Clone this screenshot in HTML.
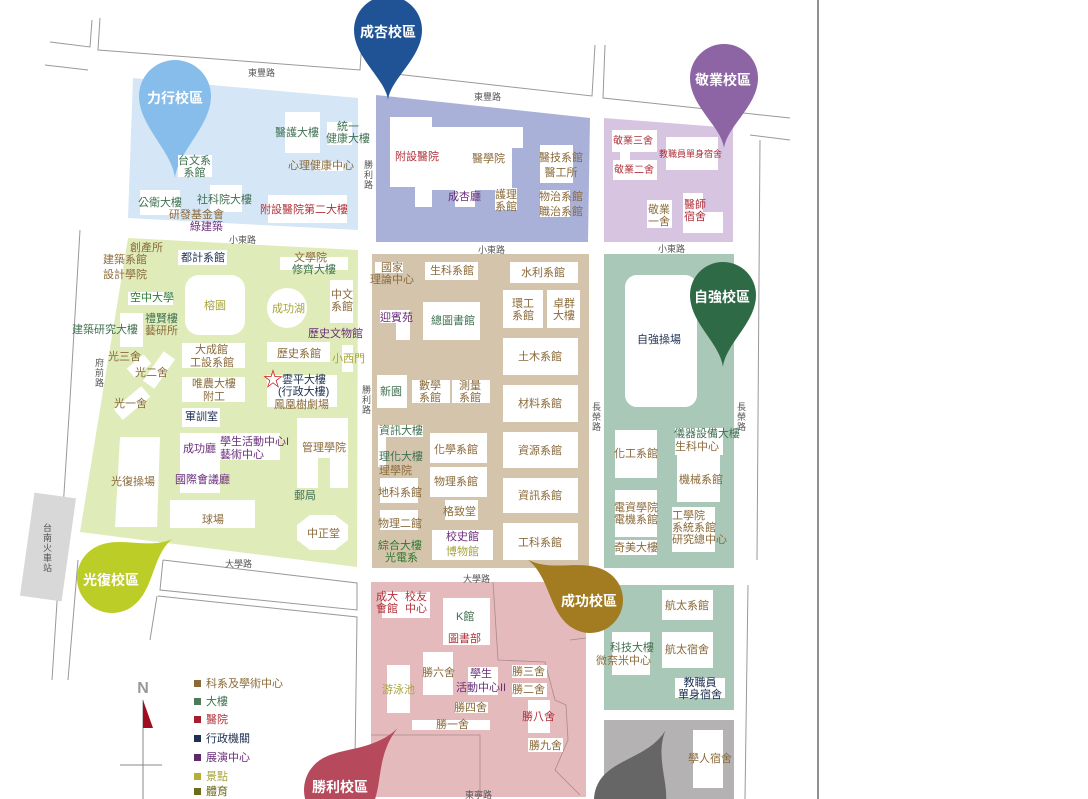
<!DOCTYPE html>
<html><head><meta charset="utf-8"><style>
html,body{margin:0;width:1088px;height:799px;overflow:hidden;background:#fff;font-family:"Liberation Sans","Noto Sans CJK TC",sans-serif;}
#m{position:absolute;left:0;top:0;width:1088px;height:799px;overflow:hidden;}
.b{position:absolute;background:#fff;}
.t{position:absolute;font-size:11px;line-height:12px;white-space:nowrap;text-align:center;}
.br{color:#8a6a3a}.gr{color:#3f7050}.rd{color:#b0303a}.pu{color:#6a2d7a}.ol{color:#a8a43a}.nv{color:#1e3050}.dg{color:#2e7a30}
.r{position:absolute;font-size:9px;color:#555;}
.pt{position:absolute;color:#fff;font-weight:bold;font-size:14px;text-align:center;width:80px;}
.lg{position:absolute;font-size:11px;left:194px;line-height:13px;}
.lg i{display:inline-block;width:7px;height:7px;margin-right:5px;}
</style></head><body><div id="m">
<svg width="1088" height="799" style="position:absolute;left:0;top:0">
<g fill="none" stroke="#999" stroke-width="1">
<polyline points="50,42 90,47 92,20"/><polyline points="100,18 98,50 360,70 362,40"/>
<polyline points="45,65 88,70"/><polyline points="378,72 592,96 595,45"/>
<polyline points="605,45 603,98 790,118"/><polyline points="750,135 790,140"/>
<polyline points="760,140 757,560"/><polyline points="748,585 745,799"/>
<polyline points="80,230 70,400 52,680"/><polyline points="78,560 68,680"/>
<polyline points="163,560 357,583 357,610 160,590 163,560"/>
<polyline points="157,596 150,640"/><polyline points="158,596 357,617 355,760"/>
<line x1="818" y1="0" x2="818" y2="799" stroke="#222"/>
</g>
<polygon points="133,78 358,98 358,230 128,218" fill="#d5e6f6"/>
<polygon points="376,95 590,118 588,242 376,242" fill="#aab1d8"/>
<polygon points="604,118 733,128 733,242 604,242" fill="#d7c4e1"/>
<polygon points="128,238 358,250 357,567 80,532" fill="#e0ebba"/>
<polygon points="372,254 589,254 589,568 372,568" fill="#d5c4ac"/>
<polygon points="604,254 734,254 734,568 604,568" fill="#aac8b7"/>
<polygon points="371,582 586,582 586,797 371,797" fill="#e4babc"/>
<polygon points="604,585 734,585 734,710 604,710" fill="#aac8b7"/>
<polygon points="604,720 734,720 734,799 604,799" fill="#b5b2b3"/>
<rect x="27" y="495" width="42" height="104" fill="#d8d8d8" transform="rotate(8 48 547)"/>
<g fill="none" stroke="#a98a8c" stroke-width="0.8">
<polyline points="493,582 498,660 545,662 555,700 566,705 568,740 555,770 580,795"/>
<polyline points="371,735 480,735 480,797"/>
<polyline points="570,640 586,638"/>
</g>
<polygon points="390,117 432,117 432,127 523,127 523,148 512,148 512,190 475,190 475,207 455,207 455,190 432,190 432,207 415,207 415,187 390,187" fill="#fff"/>
<rect x="185" y="275" width="60" height="60" rx="14" fill="#fff"/>
<circle cx="287" cy="308" r="20" fill="#fff"/>
<polygon points="297,418 348,418 348,488 330,488 330,458 318,458 318,488 297,488" fill="#fff"/>
<polygon points="310,515 335,515 348,525 348,540 335,550 310,550 297,540 297,525" fill="#fff"/>
<polygon points="120,437 160,437 157,527 115,527" fill="#fff"/>
<rect x="625" y="275" width="72" height="132" rx="12" fill="#fff"/>
<polygon points="683,193 703,193 703,212 723,212 723,233 683,233" fill="#fff"/>
<rect x="128" y="360" width="22" height="12" fill="#fff" transform="rotate(-40 139 366)"/>
<rect x="152" y="352" width="14" height="36" fill="#fff" transform="rotate(35 159 370)"/>
<rect x="125" y="385" width="14" height="36" fill="#fff" transform="rotate(50 132 403)"/>
<g>
<path d="M-34,0 A34,34 0 1 1 34,0 C34,28 3,48 0,70 C-3,48 -34,28 -34,0Z" fill="#1f5395" transform="translate(388,30)"/>
<path d="M-36,0 A36,36 0 1 1 36,0 C36,30 3,55 0,82 C-3,55 -36,30 -36,0Z" fill="#86bdea" transform="translate(175,96)"/>
<path d="M-34,0 A34,34 0 1 1 34,0 C34,28 3,48 0,70 C-3,48 -34,28 -34,0Z" fill="#8d64a4" transform="translate(724,78)"/>
<path d="M-33,0 A33,33 0 1 1 33,0 C33,28 3,48 0,72 C-3,48 -33,28 -33,0Z" fill="#2e6a45" transform="translate(723,295)"/>
<path d="M-35,0 A35,35 0 1 1 35,0 C35,28 3,45 0,72 C-3,45 -35,28 -35,0Z" fill="#bccd28" transform="translate(112,578) rotate(-123)"/>
<path d="M-33,0 A33,33 0 1 1 33,0 C33,28 3,45 0,74 C-3,45 -33,28 -33,0Z" fill="#a37b20" transform="translate(590,600) rotate(123)"/>
<path d="M-36,0 A36,36 0 1 1 36,0 C36,28 3,45 0,84 C-3,45 -36,28 -36,0Z" fill="#b64a5c" transform="translate(340,790) rotate(-137)"/>
<path d="M-36,0 A36,36 0 1 1 36,0 C36,28 3,45 0,78 C-3,45 -36,28 -36,0Z" fill="#666" transform="translate(630,800) rotate(-153)"/>
</g>
<text x="143" y="693" font-size="16" font-weight="bold" fill="#999" text-anchor="middle" font-family="Liberation Sans">N</text>
<line x1="143" y1="700" x2="143" y2="799" stroke="#888"/>
<line x1="120" y1="765" x2="162" y2="765" stroke="#888"/>
<polygon points="143,700 153,728 143,728" fill="#a00d1e"/>
</svg>

<div class="b" style="left:285px;top:112px;width:35px;height:41px"></div>
<div class="b" style="left:327px;top:122px;width:25px;height:23px"></div>
<div class="b" style="left:316px;top:161px;width:27px;height:10px"></div>
<div class="b" style="left:178px;top:155px;width:34px;height:22px"></div>
<div class="b" style="left:140px;top:190px;width:40px;height:25px"></div>
<div class="b" style="left:210px;top:185px;width:32px;height:27px"></div>
<div class="b" style="left:268px;top:195px;width:79px;height:28px"></div>
<div class="b" style="left:540px;top:145px;width:33px;height:38px"></div>
<div class="b" style="left:540px;top:190px;width:30px;height:27px"></div>
<div class="b" style="left:495px;top:188px;width:22px;height:22px"></div>
<div class="b" style="left:612px;top:130px;width:45px;height:22px"></div>
<div class="b" style="left:620px;top:152px;width:10px;height:8px"></div>
<div class="b" style="left:613px;top:160px;width:44px;height:20px"></div>
<div class="b" style="left:666px;top:137px;width:52px;height:33px"></div>
<div class="b" style="left:647px;top:200px;width:25px;height:28px"></div>
<div class="b" style="left:178px;top:250px;width:49px;height:15px"></div>
<div class="b" style="left:280px;top:257px;width:68px;height:13px"></div>
<div class="b" style="left:330px;top:280px;width:23px;height:43px"></div>
<div class="b" style="left:128px;top:292px;width:45px;height:13px"></div>
<div class="b" style="left:120px;top:313px;width:23px;height:34px"></div>
<div class="b" style="left:182px;top:343px;width:63px;height:25px"></div>
<div class="b" style="left:267px;top:342px;width:63px;height:20px"></div>
<div class="b" style="left:342px;top:345px;width:11px;height:27px"></div>
<div class="b" style="left:182px;top:377px;width:63px;height:25px"></div>
<div class="b" style="left:267px;top:375px;width:70px;height:32px"></div>
<div class="b" style="left:182px;top:408px;width:38px;height:19px"></div>
<div class="b" style="left:180px;top:433px;width:40px;height:60px"></div>
<div class="b" style="left:220px;top:433px;width:60px;height:27px"></div>
<div class="b" style="left:170px;top:500px;width:85px;height:28px"></div>
<div class="b" style="left:375px;top:262px;width:28px;height:11px"></div>
<div class="b" style="left:425px;top:262px;width:53px;height:18px"></div>
<div class="b" style="left:510px;top:262px;width:68px;height:21px"></div>
<div class="b" style="left:380px;top:310px;width:30px;height:13px"></div>
<div class="b" style="left:396px;top:323px;width:14px;height:17px"></div>
<div class="b" style="left:423px;top:302px;width:57px;height:38px"></div>
<div class="b" style="left:503px;top:290px;width:40px;height:38px"></div>
<div class="b" style="left:547px;top:290px;width:33px;height:38px"></div>
<div class="b" style="left:503px;top:338px;width:75px;height:37px"></div>
<div class="b" style="left:377px;top:375px;width:30px;height:33px"></div>
<div class="b" style="left:412px;top:380px;width:38px;height:23px"></div>
<div class="b" style="left:452px;top:380px;width:38px;height:23px"></div>
<div class="b" style="left:503px;top:385px;width:75px;height:37px"></div>
<div class="b" style="left:378px;top:425px;width:45px;height:12px"></div>
<div class="b" style="left:378px;top:437px;width:8px;height:30px"></div>
<div class="b" style="left:430px;top:433px;width:57px;height:30px"></div>
<div class="b" style="left:503px;top:432px;width:75px;height:36px"></div>
<div class="b" style="left:430px;top:467px;width:57px;height:30px"></div>
<div class="b" style="left:380px;top:478px;width:38px;height:25px"></div>
<div class="b" style="left:503px;top:478px;width:75px;height:35px"></div>
<div class="b" style="left:445px;top:500px;width:33px;height:20px"></div>
<div class="b" style="left:380px;top:510px;width:38px;height:20px"></div>
<div class="b" style="left:432px;top:530px;width:61px;height:30px"></div>
<div class="b" style="left:503px;top:523px;width:75px;height:37px"></div>
<div class="b" style="left:615px;top:430px;width:42px;height:48px"></div>
<div class="b" style="left:675px;top:428px;width:48px;height:27px"></div>
<div class="b" style="left:677px;top:455px;width:43px;height:47px"></div>
<div class="b" style="left:615px;top:490px;width:42px;height:47px"></div>
<div class="b" style="left:672px;top:507px;width:43px;height:45px"></div>
<div class="b" style="left:615px;top:540px;width:42px;height:15px"></div>
<div class="b" style="left:382px;top:592px;width:48px;height:26px"></div>
<div class="b" style="left:443px;top:598px;width:47px;height:47px"></div>
<div class="b" style="left:423px;top:652px;width:30px;height:43px"></div>
<div class="b" style="left:387px;top:665px;width:23px;height:48px"></div>
<div class="b" style="left:468px;top:667px;width:30px;height:28px"></div>
<div class="b" style="left:512px;top:665px;width:35px;height:13px"></div>
<div class="b" style="left:512px;top:683px;width:35px;height:14px"></div>
<div class="b" style="left:455px;top:702px;width:33px;height:11px"></div>
<div class="b" style="left:412px;top:720px;width:78px;height:10px"></div>
<div class="b" style="left:528px;top:700px;width:22px;height:33px"></div>
<div class="b" style="left:528px;top:738px;width:35px;height:14px"></div>
<div class="b" style="left:662px;top:590px;width:51px;height:30px"></div>
<div class="b" style="left:612px;top:632px;width:38px;height:43px"></div>
<div class="b" style="left:662px;top:632px;width:51px;height:36px"></div>
<div class="b" style="left:675px;top:678px;width:50px;height:20px"></div>
<div class="b" style="left:693px;top:730px;width:30px;height:58px"></div>

<div class="r" style="left:248px;top:66px">東豐路</div>
<div class="r" style="left:474px;top:90px">東豐路</div>
<div class="r" style="left:229px;top:233px">小東路</div>
<div class="r" style="left:478px;top:243px">小東路</div>
<div class="r" style="left:658px;top:242px">小東路</div>
<div class="r" style="left:225px;top:557px">大學路</div>
<div class="r" style="left:463px;top:572px">大學路</div>
<div class="r" style="left:465px;top:788px">東寧路</div>
<div class="r" style="left:364px;top:160px;width:9px;line-height:10px">勝利路</div>
<div class="r" style="left:362px;top:385px;width:9px;line-height:10px">勝利路</div>
<div class="r" style="left:592px;top:402px;width:9px;line-height:10px">長榮路</div>
<div class="r" style="left:737px;top:402px;width:9px;line-height:10px">長榮路</div>
<div class="r" style="left:95px;top:358px;width:9px;line-height:10px">府前路</div>
<div class="r" style="left:43px;top:523px;width:9px;line-height:10px">台南火車站</div>

<div class="pt" style="left:348px;top:22px">成杏校區</div>
<div class="pt" style="left:135px;top:88px">力行校區</div>
<div class="pt" style="left:683px;top:70px">敬業校區</div>
<div class="pt" style="left:682px;top:287px">自強校區</div>
<div class="pt" style="left:71px;top:570px">光復校區</div>
<div class="pt" style="left:549px;top:591px">成功校區</div>
<div class="pt" style="left:300px;top:777px">勝利校區</div>

<div class="t gr" style="left:275px;top:127px">醫護大樓</div>
<div class="t gr" style="left:326px;top:121px">統一<br>健康大樓</div>
<div class="t br" style="left:288px;top:160px">心理健康中心</div>
<div class="t gr" style="left:178px;top:155px">台文系<br>系館</div>
<div class="t gr" style="left:138px;top:197px">公衛大樓</div>
<div class="t gr" style="left:197px;top:194px">社科院大樓</div>
<div class="t br" style="left:169px;top:209px">研發基金會</div>
<div class="t pu" style="left:190px;top:221px">綠建築</div>
<div class="t rd" style="left:260px;top:204px">附設醫院第二大樓</div>
<div class="t rd" style="left:395px;top:151px">附設醫院</div>
<div class="t br" style="left:472px;top:153px">醫學院</div>
<div class="t pu" style="left:448px;top:191px">成杏廳</div>
<div class="t br" style="left:495px;top:189px">護理<br>系館</div>
<div class="t br" style="left:539px;top:151px;line-height:15px">醫技系館<br>醫工所</div>
<div class="t br" style="left:539px;top:190px;line-height:15px">物治系館<br>職治系館</div>
<div class="t rd" style="left:613px;top:136px;font-size:10px">敬業三舍</div>
<div class="t rd" style="left:614px;top:165px;font-size:10px">敬業二舍</div>
<div class="t rd" style="left:659px;top:148px;font-size:9px">教職員單身宿舍</div>
<div class="t br" style="left:648px;top:204px">敬業<br>一舍</div>
<div class="t rd" style="left:684px;top:199px">醫師<br>宿舍</div>
<div class="t br" style="left:130px;top:242px">創產所</div>
<div class="t br" style="left:103px;top:254px">建築系館</div>
<div class="t br" style="left:103px;top:269px">設計學院</div>
<div class="t nv" style="left:181px;top:252px">都計系館</div>
<div class="t br" style="left:294px;top:252px">文學院</div>
<div class="t gr" style="left:292px;top:264px">修齊大樓</div>
<div class="t ol" style="left:204px;top:300px">榕園</div>
<div class="t ol" style="left:272px;top:303px">成功湖</div>
<div class="t br" style="left:331px;top:289px">中文<br>系館</div>
<div class="t dg" style="left:130px;top:292px">空中大學</div>
<div class="t gr" style="left:145px;top:313px">禮賢樓</div>
<div class="t br" style="left:145px;top:325px">藝研所</div>
<div class="t gr" style="left:72px;top:324px">建築研究大樓</div>
<div class="t pu" style="left:308px;top:328px">歷史文物館</div>
<div class="t br" style="left:195px;top:344px">大成館</div>
<div class="t br" style="left:190px;top:357px">工設系館</div>
<div class="t br" style="left:277px;top:348px">歷史系館</div>
<div class="t ol" style="left:332px;top:353px">小西門</div>
<div class="t br" style="left:108px;top:351px">光三舍</div>
<div class="t br" style="left:135px;top:367px">光二舍</div>
<div class="t br" style="left:114px;top:398px">光一舍</div>
<div class="t br" style="left:192px;top:378px">唯農大樓</div>
<div class="t br" style="left:203px;top:391px">附工</div>
<div class="t nv" style="left:282px;top:374px">雲平大樓</div>
<div class="t nv" style="left:278px;top:386px">(行政大樓)</div>
<div class="t br" style="left:274px;top:399px">鳳凰樹劇場</div>
<div class="t nv" style="left:185px;top:411px">軍訓室</div>
<div class="t pu" style="left:183px;top:443px">成功廳</div>
<div class="t pu" style="left:220px;top:436px">學生活動中心I</div>
<div class="t pu" style="left:220px;top:449px">藝術中心</div>
<div class="t br" style="left:302px;top:442px">管理學院</div>
<div class="t br" style="left:111px;top:476px">光復操場</div>
<div class="t pu" style="left:175px;top:474px">國際會議廳</div>
<div class="t gr" style="left:294px;top:490px">郵局</div>
<div class="t br" style="left:202px;top:514px">球場</div>
<div class="t br" style="left:307px;top:528px">中正堂</div>
<div class="t br" style="left:370px;top:262px">國家<br>理論中心</div>
<div class="t br" style="left:430px;top:265px">生科系館</div>
<div class="t br" style="left:521px;top:267px">水利系館</div>
<div class="t pu" style="left:380px;top:312px">迎賓苑</div>
<div class="t gr" style="left:431px;top:315px">總圖書館</div>
<div class="t br" style="left:512px;top:298px">環工<br>系館</div>
<div class="t br" style="left:553px;top:298px">卓群<br>大樓</div>
<div class="t br" style="left:518px;top:351px">土木系館</div>
<div class="t gr" style="left:380px;top:386px">新園</div>
<div class="t br" style="left:419px;top:380px">數學<br>系館</div>
<div class="t br" style="left:459px;top:380px">測量<br>系館</div>
<div class="t br" style="left:518px;top:398px">材料系館</div>
<div class="t gr" style="left:379px;top:425px">資訊大樓</div>
<div class="t gr" style="left:379px;top:451px">理化大樓</div>
<div class="t br" style="left:379px;top:465px">理學院</div>
<div class="t br" style="left:434px;top:444px">化學系館</div>
<div class="t br" style="left:518px;top:445px">資源系館</div>
<div class="t br" style="left:434px;top:476px">物理系館</div>
<div class="t br" style="left:378px;top:487px">地科系館</div>
<div class="t br" style="left:518px;top:490px">資訊系館</div>
<div class="t br" style="left:443px;top:506px">格致堂</div>
<div class="t br" style="left:378px;top:518px">物理二館</div>
<div class="t dg" style="left:378px;top:540px">綜合大樓</div>
<div class="t dg" style="left:385px;top:552px">光電系</div>
<div class="t pu" style="left:446px;top:531px">校史館</div>
<div class="t ol" style="left:446px;top:546px">博物館</div>
<div class="t br" style="left:518px;top:537px">工科系館</div>
<div class="t nv" style="left:637px;top:334px">自強操場</div>
<div class="t br" style="left:614px;top:448px">化工系館</div>
<div class="t gr" style="left:674px;top:428px">儀器設備大樓</div>
<div class="t br" style="left:675px;top:441px">生科中心</div>
<div class="t br" style="left:679px;top:474px">機械系館</div>
<div class="t br" style="left:614px;top:502px">電資學院<br>電機系館</div>
<div class="t br" style="left:672px;top:510px;text-align:left">工學院<br>系統系館<br>研究總中心</div>
<div class="t br" style="left:614px;top:542px">奇美大樓</div>
<div class="t rd" style="left:376px;top:591px">成大<br>會館</div>
<div class="t rd" style="left:405px;top:591px">校友<br>中心</div>
<div class="t gr" style="left:456px;top:611px">K館</div>
<div class="t rd" style="left:448px;top:633px">圖書部</div>
<div class="t br" style="left:422px;top:667px">勝六舍</div>
<div class="t ol" style="left:382px;top:684px">游泳池</div>
<div class="t pu" style="left:470px;top:668px">學生</div>
<div class="t pu" style="left:456px;top:682px">活動中心II</div>
<div class="t br" style="left:512px;top:666px">勝三舍</div>
<div class="t br" style="left:512px;top:684px">勝二舍</div>
<div class="t br" style="left:454px;top:702px">勝四舍</div>
<div class="t br" style="left:436px;top:719px">勝一舍</div>
<div class="t rd" style="left:522px;top:711px">勝八舍</div>
<div class="t br" style="left:529px;top:740px">勝九舍</div>
<div class="t br" style="left:665px;top:600px">航太系館</div>
<div class="t gr" style="left:610px;top:642px">科技大樓</div>
<div class="t br" style="left:596px;top:655px">微奈米中心</div>
<div class="t br" style="left:665px;top:644px">航太宿舍</div>
<div class="t nv" style="left:678px;top:677px">教職員<br>單身宿舍</div>
<div class="t br" style="left:688px;top:753px">學人宿舍</div>
<div class="lg br" style="top:678px"><i style="background:#8b6a3a"></i>科系及學術中心</div>
<div class="lg gr" style="top:696px"><i style="background:#4f7a5a"></i>大樓</div>
<div class="lg rd" style="top:714px"><i style="background:#a61d2e"></i>醫院</div>
<div class="lg nv" style="top:733px"><i style="background:#1e3050"></i>行政機關</div>
<div class="lg pu" style="top:752px"><i style="background:#5c2a6a"></i>展演中心</div>
<div class="lg ol" style="top:771px"><i style="background:#b5ac3a"></i>景點</div>
<div class="lg" style="top:786px;color:#6b6b1e"><i style="background:#6b6b1e"></i>體育</div>
<div style="position:absolute;left:263px;top:370px;color:#d0101e;font-size:20px;line-height:20px">☆</div>
</div></body></html>
